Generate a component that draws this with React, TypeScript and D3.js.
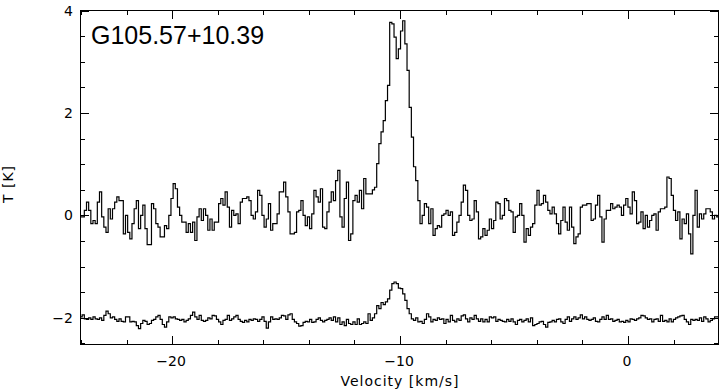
import * as d3 from 'd3'
import { useEffect, useRef } from 'react'

const title = 'G105.57+10.39'
const xTitle = 'Velocity [km/s]'
const yTitle = 'T [K]'

// channel grid of the spectra (km/s)
const vStart = -24.04
const chanWidth = 0.095

const xDomain = [-24.04, 3.99]
const yDomain = [-2.53, 4]

const xMajorTicks = [-20, -10, 0]
const xMinorTicks = [-24, -22, -18, -16, -14, -12, -8, -6, -4, -2, 2]
const yMajorTicks = [-2, 0, 2, 4]
const yMinorTicks = [-2.5, -1.5, -1, -0.5, 0.5, 1, 1.5, 2.5, 3, 3.5]

// upper spectrum, T in K per channel
const upperT = [
    -0.03, -0.03, 0.1, 0.26, 0.1, -0.16, -0.1, -0.16, 0.26, 0.46,
    -0.03, -0.23, -0.33, 0.13, -0.07, 0.13, 0.26, 0.36, 0.29, 0.29,
    -0.36, 0.0, -0.33, -0.46, -0.16, 0.13, 0.29, -0.26, 0.0, 0.2,
    -0.26, -0.57, -0.57, 0.23, 0.13, -0.16, -0.23, -0.42, -0.42, -0.2,
    -0.26, 0.0, 0.33, 0.62, 0.52, 0.16, 0.0, -0.13, -0.13, -0.33,
    -0.16, -0.33, -0.13, -0.49, -0.03, 0.13, -0.1, 0.13, 0.0, -0.29,
    -0.07, -0.29, -0.13, -0.13, 0.23, 0.33, 0.2, 0.46, 0.16, -0.23,
    0.1, 0.0,
    0.03, -0.16, 0.26, 0.33, 0.33, 0.36, 0.29, 0.0, -0.07, 0.07,
    0.49, 0.39, 0.0, -0.23, -0.07, 0.23, -0.29, -0.16, -0.16, 0.03,
    0.46, 0.46, 0.65, 0.36, 0.07, -0.36, -0.36, -0.33, 0.07, 0.1,
    0.29, 0.0, -0.2, -0.03, -0.26, 0.03, 0.49, 0.36, 0.26, 0.52,
    -0.23, -0.26, 0.07, 0.26, 0.46, 0.29, 0.68, 0.88, -0.03, -0.23,
    0.33, 0.65, -0.49, -0.36, 0.29, 0.39, 0.26, 0.49, 0.13, 0.72,
    0.42, 0.42, 0.42, 0.5,
    0.55, 1.01, 1.4, 1.63, 1.85, 2.24, 2.54, 3.77, 3.74, 3.48,
    3.06, 3.25, 3.6, 3.8, 3.35, 2.83, 2.11, 1.53, 0.95, 0.68,
    0.29,
    -0.16, 0.0, 0.23, 0.16, -0.16, 0.13, -0.39, -0.26,
    -0.2, -0.23, 0.0, 0.03, 0.1, 0.0, 0.07, -0.39, -0.33, -0.13,
    0.0, 0.26, 0.59, 0.49, 0.0, -0.1, -0.07, 0.29, 0.07, -0.46,
    -0.42, -0.26, -0.39, -0.29, -0.07, -0.26, -0.1, 0.26, 0.23, -0.07,
    0.0, 0.33, 0.29, 0.1, 0.07, -0.33, -0.03, 0.0, 0.23, 0.0,
    -0.52, -0.26, -0.39, -0.23, -0.16, 0.2, 0.49, 0.2, 0.23, 0.39,
    0.26, 0.1, 0.03, 0.16,
    0.03, -0.16, -0.36, -0.1, 0.16, -0.13, -0.29, 0.16, -0.23, -0.55,
    -0.42, -0.36, 0.16, 0.2, 0.2, 0.23, 0.23, -0.1, -0.07, 0.2,
    0.39, -0.03, -0.52, -0.07, 0.1, 0.1, 0.23, 0.13, 0.16, 0.2,
    0.16, 0.0, 0.2, 0.33, 0.16, 0.03, 0.46, 0.29, -0.16, -0.13,
    0.07, -0.26, 0.0, -0.23, -0.1, 0.0, 0.03, -0.29, 0.07, 0.13,
    0.13, 0.16, 0.75, 0.72, 0.39, 0.1, -0.1, 0.07, -0.46, -0.07,
    -0.16, 0.03, -0.36, -0.75, 0.0, 0.49, -0.23, 0.03, -0.07, 0.03,
    0.13, 0.13, 0.07, -0.07, 0.0, -0.03,
]

// lower spectrum, T in K per channel (offset by -2 K)
const lowerT = [
    -1.98, -1.94, -2.02, -2.03, -2.0, -2.03, -1.98, -2.02, -2.03, -2.0,
    -2.05, -1.95, -1.87, -1.92, -2.0, -1.98, -2.03, -2.07, -2.02, -2.07,
    -2.08, -1.98, -1.98, -2.08, -2.07, -2.08, -2.15, -2.21, -2.11, -2.05,
    -2.07, -2.13, -2.11, -2.05, -2.03, -1.98, -1.95, -2.03, -2.13, -2.18,
    -2.08, -1.98, -2.0, -1.98, -2.02, -2.03, -2.05, -2.03, -2.08, -2.05,
    -2.02, -1.95, -1.89, -1.98, -2.03, -1.95, -2.05, -2.07, -2.05, -2.0,
    -2.02, -1.95, -1.96, -2.03, -2.08, -2.13, -2.05, -2.03, -1.95, -2.05,
    -2.02, -1.98,
    -1.95, -2.03, -2.07, -2.09, -2.05, -2.08, -2.03, -2.05, -2.02, -2.03,
    -2.07, -2.03, -1.98, -2.07, -2.2, -2.08, -1.98, -2.03, -2.02, -2.03,
    -2.0, -1.95, -1.96, -2.03, -1.94, -1.92, -2.03, -2.08, -2.11, -2.16,
    -2.15, -2.09, -2.07, -2.08, -2.03, -2.09, -2.08, -2.03, -2.0, -2.05,
    -2.08, -2.05, -2.03, -2.0, -2.05, -1.98, -2.08, -2.0, -2.13, -2.08,
    -2.15, -2.03, -2.11, -2.13, -2.08, -2.13, -2.02, -2.13, -2.11, -2.08,
    -2.11, -1.92, -2.05, -2.0,
    -1.92, -1.76, -1.82, -1.7, -1.74, -1.69, -1.63, -1.46, -1.33, -1.3,
    -1.33, -1.42, -1.43, -1.53, -1.66, -1.82, -1.92, -2.02, -2.05, -2.0,
    -2.08,
    -2.07, -2.11, -2.03, -1.92, -1.98, -2.08, -2.03, -2.05,
    -2.0, -2.03, -2.02, -2.11, -2.03, -2.08, -1.95, -2.05, -2.08, -2.02,
    -2.05, -1.96, -1.94, -2.02, -2.08, -2.0, -2.03, -1.95, -2.02, -2.07,
    -2.02, -2.08, -2.03, -2.08, -1.98, -2.0, -1.98, -2.07, -2.03, -2.05,
    -2.07, -2.08, -2.03, -2.07, -2.02, -2.08, -2.13, -2.05, -2.03, -2.08,
    -2.05, -2.02, -2.08, -2.0, -2.15, -2.13, -2.11, -2.08, -2.07, -2.13,
    -2.18, -2.09, -2.08, -2.05,
    -2.08, -2.03, -2.02, -2.08, -2.11, -2.03, -1.98, -2.07, -2.02, -1.98,
    -2.03, -2.0, -1.94, -2.02, -1.98, -2.03, -2.05, -2.03, -2.0, -2.07,
    -2.08, -2.03, -1.98, -2.03, -1.95, -2.03, -2.02, -2.07, -2.05, -2.03,
    -2.08, -2.07, -2.09, -2.05, -2.08, -2.02, -2.03, -2.05, -2.02, -2.0,
    -1.95, -1.96, -2.0, -2.03, -2.02, -2.08, -2.03, -2.02, -2.07, -1.95,
    -2.07, -2.05, -2.08, -2.02, -2.08, -2.03, -2.0, -1.98, -1.96, -1.95,
    -2.03, -2.08, -2.13, -2.03, -2.05, -2.03, -2.05, -2.0, -2.07, -1.98,
    -2.02, -2.08, -2.05, -2.02, -1.98, -1.98,
]

const width = 726
const height = 389
const titleFont = '"Liberation Sans", Arial, sans-serif'
const labelFont = '"DejaVu Sans", sans-serif'

function Spectrum() {
    const ref = useRef<SVGSVGElement>(null)

    useEffect(() => {
        const svg = d3.select(ref.current)
        svg.selectAll('*').remove()

        const x = d3.scaleLinear().domain(xDomain).range([80, 719])
        const y = d3.scaleLinear().domain(yDomain).range([345, 10.5])

        svg.append('defs')
            .append('clipPath')
            .attr('id', 'plotClip')
            .append('rect')
            .attr('x', 80)
            .attr('y', 10)
            .attr('width', 639)
            .attr('height', 335)

        // histogram style spectra: each channel is a flat step
        const stepLine = d3
            .line<number>()
            .x((d, i) => x(vStart + i * chanWidth))
            .y((d) => y(d))
            .curve(d3.curveStepAfter)

        const plot = svg.append('g').attr('clip-path', 'url(#plotClip)')
        ;[upperT, lowerT].forEach((series) => {
            const pts = [...series, series[series.length - 1]]
            plot.append('path')
                .attr('d', stepLine(pts))
                .attr('fill', 'none')
                .attr('stroke', '#000')
                .attr('stroke-width', 1.2)
                .attr('stroke-linejoin', 'miter')
        })

        // frame
        svg.append('rect')
            .attr('x', 80.5)
            .attr('y', 10.5)
            .attr('width', 638)
            .attr('height', 334)
            .attr('fill', 'none')
            .attr('stroke', '#000')
            .attr('stroke-width', 1)

        const ticks = svg.append('g').attr('stroke', '#000').attr('stroke-width', 1)
        const xTick = (v: number, len: number) => {
            const px = Math.round(x(v)) + 0.5
            ticks.append('line').attr('x1', px).attr('x2', px).attr('y1', 345).attr('y2', 345 - len)
            ticks.append('line').attr('x1', px).attr('x2', px).attr('y1', 10).attr('y2', 10 + len)
        }
        const yTick = (v: number, len: number) => {
            const py = Math.round(y(v)) + 0.5
            ticks.append('line').attr('x1', 80).attr('x2', 80 + len).attr('y1', py).attr('y2', py)
            ticks.append('line').attr('x1', 719).attr('x2', 719 - len).attr('y1', py).attr('y2', py)
        }
        xMajorTicks.forEach((v) => xTick(v, 9))
        xMinorTicks.forEach((v) => xTick(v, 5))
        yMajorTicks.forEach((v) => yTick(v, 9))
        yMinorTicks.forEach((v) => yTick(v, 5))

        const fmt = (v: number) => (v < 0 ? '\u2212' + Math.abs(v) : String(v))

        svg.append('g')
            .selectAll('text')
            .data(xMajorTicks)
            .enter()
            .append('text')
            .attr('x', (d) => x(d) - 1)
            .attr('y', 366)
            .attr('text-anchor', 'middle')
            .attr('font-family', labelFont)
            .attr('font-size', 14)
            .text(fmt)

        svg.append('g')
            .selectAll('text')
            .data(yMajorTicks)
            .enter()
            .append('text')
            .attr('x', 73)
            .attr('y', (d) => y(d) + 5)
            .attr('text-anchor', 'end')
            .attr('font-family', labelFont)
            .attr('font-size', 14)
            .text(fmt)

        svg.append('text')
            .attr('x', 400)
            .attr('y', 386)
            .attr('text-anchor', 'middle')
            .attr('font-family', labelFont)
            .attr('font-size', 14)
            .attr('letter-spacing', 1)
            .text(xTitle)

        svg.append('text')
            .attr('transform', 'translate(13, 184) rotate(-90)')
            .attr('text-anchor', 'middle')
            .attr('font-family', labelFont)
            .attr('font-size', 14)
            .attr('letter-spacing', 1)
            .text(yTitle)

        svg.append('text')
            .attr('x', 91)
            .attr('y', 44)
            .attr('font-family', titleFont)
            .attr('font-size', 25)
            .text(title)
    }, [])

    return (
        <svg
            ref={ref}
            width={width}
            height={height}
            style={{ position: 'absolute', left: 0, top: 0, background: '#fff' }}
        />
    )
}

export default function App() {
    return <Spectrum />
}
